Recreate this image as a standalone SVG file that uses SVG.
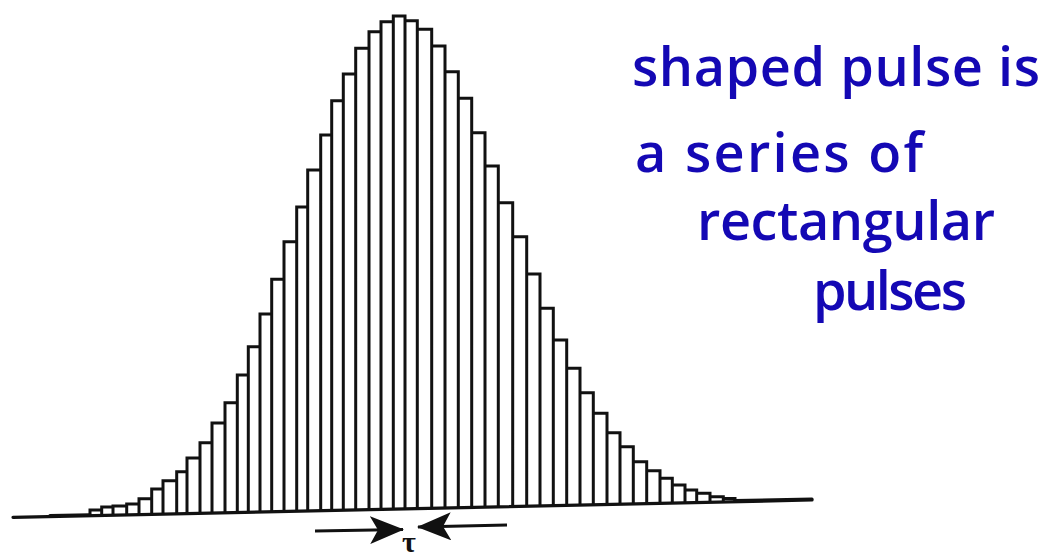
<svg xmlns="http://www.w3.org/2000/svg" width="1044" height="557" viewBox="0 0 1044 557">
  <style>
    .bar { fill: #ffffff; stroke: #111111; stroke-width: 3; stroke-linejoin: miter; }
    .base { fill: none; stroke: #111111; stroke-width: 3.2; stroke-linecap: round; }
    .arrowline { fill: none; stroke: #111111; stroke-width: 3; }
    .note { font-family: "Open Sans", "Liberation Sans", sans-serif; font-weight: 600; font-size: 54px; fill: #1408b4; }
    .tau { font-family: "Liberation Serif", "DejaVu Serif", serif; font-weight: bold; font-size: 30px; fill: #111111; }
  </style>
  <defs>
    <marker id="head" viewBox="0 0 34 28" refX="33" refY="14" markerWidth="34" markerHeight="28" markerUnits="userSpaceOnUse" orient="auto">
      <path d="M0,0 L34,14 L0,28 L8,14 Z" fill="#111111"/>
    </marker>
  </defs>
  <rect width="1044" height="557" fill="#ffffff"/>

  <g id="pulse">
    <path class="bar" d="
      M90,515.6 V510 H101.7 V515.4
      M101.7,515.4 V507 H113 V515.1
      M113,515.1 V506 H126.7 V514.8
      M126.7,514.8 V504 H139 V514.6
      M139,514.6 V498.7 H151.7 V514.3
      M151.7,514.3 V489 H163 V514.0
      M163,514.0 V480.7 H176.7 V513.8
      M176.7,513.8 V471.7 H187 V513.5
      M187,513.5 V458 H200 V513.2
      M200,513.2 V442.7 H212 V513.0
      M212,513.0 V423 H225 V512.7
      M225,512.7 V402.7 H237.3 V512.4
      M237.3,512.4 V375 H248.3 V512.2
      M248.3,512.2 V346.7 H260 V511.9
      M260,511.9 V314 H271.7 V511.7
      M271.7,511.7 V279.3 H284 V511.4
      M284,511.4 V241.7 H296.7 V511.2
      M296.7,511.2 V207 H307.7 V510.9
      M307.7,510.9 V170 H320.7 V510.6
      M320.7,510.6 V135 H331.7 V510.4
      M331.7,510.4 V100.7 H343.3 V510.1
      M343.3,510.1 V74 H355.7 V509.9
      M355.7,509.9 V48.3 H369 V509.6
      M369,509.6 V31.7 H381 V509.3
      M381,509.3 V21.7 H393.3 V509.1
      M393.3,509.1 V16 H405 V508.8
      M405,508.8 V20.7 H417.3 V508.5
      M417.3,508.5 V29.3 H431.7 V508.2
      M431.7,508.2 V46 H445 V507.9
      M445,507.9 V71.7 H458.3 V507.6
      M458.3,507.6 V98.3 H471.7 V507.4
      M471.7,507.4 V132.7 H485 V507.1
      M485,507.1 V166 H498.3 V506.8
      M498.3,506.8 V202.7 H512.7 V506.5
      M512.7,506.5 V236.7 H526.7 V506.2
      M526.7,506.2 V274 H540 V505.9
      M540,505.9 V308.3 H553.3 V505.6
      M553.3,505.6 V340 H566.7 V505.3
      M566.7,505.3 V368.3 H580 V505.0
      M580,505.0 V392.7 H593.3 V504.7
      M593.3,504.7 V413.3 H607 V504.4
      M607,504.4 V432.7 H620 V504.2
      M620,504.2 V446.7 H633.3 V503.9
      M633.3,503.9 V461.7 H646.7 V503.6
      M646.7,503.6 V470.7 H660 V503.3
      M660,503.3 V478.3 H672.3 V503.0
      M672.3,503.0 V485 H685 V502.7
      M685,502.7 V490 H696.7 V502.5
      M696.7,502.5 V493.3 H710 V502.2
      M710,502.2 V496.7 H723.3 V501.9
      M723.3,501.9 V498.5 H735 V501.7"/>
  </g>

  <g id="baseline">
    <line class="base" x1="13" y1="517.3" x2="812" y2="500"/>
    <line class="base" x1="50" y1="515.6" x2="90" y2="514.8" stroke-width="2.4"/>
    <line class="base" x1="735" y1="500.6" x2="812" y2="499" stroke-width="2"/>
  </g>

  <g id="connectors">
    <line class="arrowline" x1="315" y1="531" x2="403" y2="529.5" marker-end="url(#head)"/>
    <line class="arrowline" x1="507" y1="525" x2="418" y2="527" marker-end="url(#head)"/>
  </g>

  <g id="tau-label">
    <text class="tau" x="409" y="552" text-anchor="middle">τ</text>
  </g>

  <g id="note">
    <text class="note" x="632" y="86" textLength="408" lengthAdjust="spacing">shaped pulse is</text>
    <text class="note" x="635" y="172" textLength="288" lengthAdjust="spacing">a series of</text>
    <text class="note" x="697" y="240" textLength="298" lengthAdjust="spacing">rectangular</text>
    <text class="note" x="813" y="310" textLength="154" lengthAdjust="spacing">pulses</text>
  </g>
</svg>
